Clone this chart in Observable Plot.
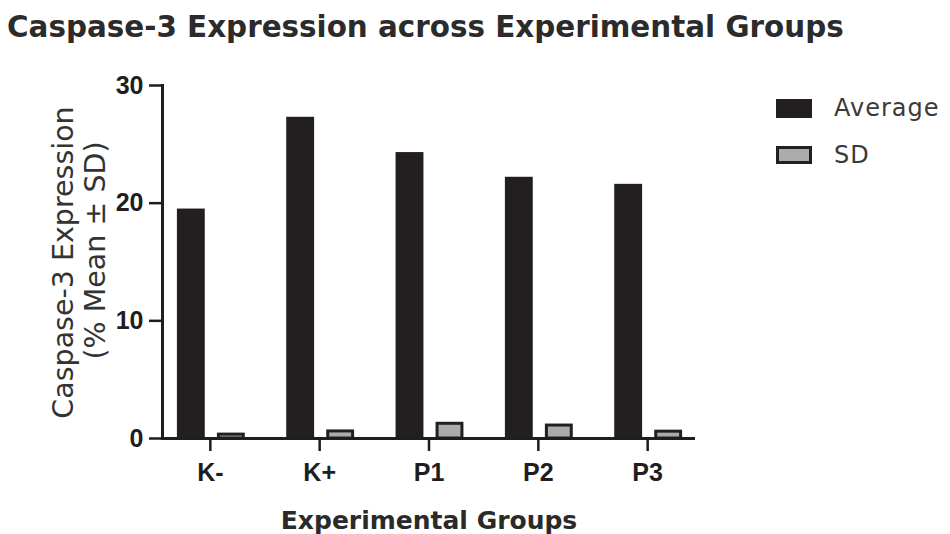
<!DOCTYPE html>
<html>
<head>
<meta charset="utf-8">
<script src="https://cdn.jsdelivr.net/npm/d3@7"></script>
<script src="https://cdn.jsdelivr.net/npm/@observablehq/plot@0.6"></script>
<style>
  html, body { margin: 0; padding: 0; background: #fff; }
  #wrap { position: relative; width: 950px; height: 534px; overflow: hidden; background: #fff; }
  #title { height: 60px; position: relative; }
  #title span { position: absolute; left: 7px; top: 13px; font-family: "DejaVu Sans", sans-serif; font-weight: bold; font-size: 29.4px; line-height: 29.4px; color: #2b2b2b; white-space: nowrap; }
  .lg-sw { position: absolute; box-sizing: border-box; }
  .lg-tx { position: absolute; font-family: "DejaVu Sans", sans-serif; font-size: 24px; line-height: 24px; letter-spacing: 1px; color: #3a3a3a; white-space: nowrap; }
  svg g[aria-label="y-axis tick label"], svg g[aria-label="x-axis tick label"] { font-weight: bold; }
</style>
</head>
<body>
<div id="wrap">
  <div id="title"><span id="title-text"></span></div>
  <div id="chart"></div>
  <div id="legend"></div>
</div>
<script>
const titleText = "Caspase-3 Expression across Experimental Groups";
const groups = ["K-", "K+", "P1", "P2", "P3"];
const averages = [19.5, 27.3, 24.3, 22.2, 21.6];
const sds = [0.33, 0.6, 1.25, 1.1, 0.58];
const series = ["Average", "SD"];
const seriesColors = ["#231f20", "#ababab"];
const yTicks = [0, 10, 20, 30];
const xLabel = "Experimental Groups";
const yLabelLines = ["Caspase-3 Expression", "(% Mean \u00b1 SD)"];

document.getElementById("title-text").textContent = titleText;

const avgRows = groups.map((g, i) => ({group: g, series: series[0], value: averages[i]}));
const sdRows = groups.map((g, i) => ({group: g, series: series[1], value: sds[i]}));

const ink = "#1e1e1e";

const chart = Plot.plot({
  width: 950,
  height: 474,
  marginLeft: 162,
  marginRight: 255,
  marginTop: 25,
  marginBottom: 96,
  style: {fontFamily: "'Liberation Sans', Arial, sans-serif", fontSize: "25px", color: ink, background: "white", overflow: "visible"},
  x: {domain: groups, paddingInner: 0.745, paddingOuter: 0.31, round: false, axis: null},
  y: {domain: [0, 30], axis: null},
  color: {domain: series, range: seriesColors},
  marks: [
    Plot.barY(avgRows, {x: "group", y: "value", fill: "series", dx: -19}),
    Plot.barY(sdRows, {x: "group", y: "value", fill: "series", stroke: "#231f20", strokeWidth: 3, insetLeft: 1.5, insetRight: 1.5, dx: 21}),
    Plot.ruleY([0], {stroke: ink, strokeWidth: 3}),
    Plot.frame({anchor: "left", stroke: ink, strokeWidth: 3}),
    Plot.axisY({ticks: yTicks, tickSize: 13, tickPadding: 6, strokeWidth: 2.5, fontWeight: "bold", label: null}),
    Plot.axisX({tickSize: 13, tickPadding: 12, strokeWidth: 2.5, fontWeight: "bold", label: null}),
    Plot.text([xLabel], {frameAnchor: "bottom", textAnchor: "middle", dy: 82.5, lineAnchor: "middle", fontFamily: "DejaVu Sans", fontWeight: "bold", fontSize: 25, fill: "#2a2a2a"}),
    Plot.text([yLabelLines[0]], {frameAnchor: "left", textAnchor: "middle", rotate: -90, dx: -99, dy: 0.5, lineAnchor: "middle", fontFamily: "DejaVu Sans", fontSize: 28.5, fill: "#333"}),
    Plot.text([yLabelLines[1]], {frameAnchor: "left", textAnchor: "middle", rotate: -90, dx: -67, dy: -11.5, lineAnchor: "middle", fontFamily: "DejaVu Sans", fontSize: 28.5, fill: "#333"})
  ]
});
document.getElementById("chart").appendChild(chart);

// Legend built from the same colour scale
const color = chart.scale("color");
const legend = document.getElementById("legend");
const swTops = [99, 146];
const txTops = [96.4, 142.7];
series.forEach((s, i) => {
  const sw = document.createElement("div");
  sw.className = "lg-sw";
  sw.style.left = "776px";
  sw.style.top = swTops[i] + "px";
  sw.style.width = "36px";
  sw.style.height = (i === 0 ? 19 : 17.5) + "px";
  sw.style.background = color.range[i];
  if (i === 1) sw.style.border = "3px solid #231f20";
  legend.appendChild(sw);
  const tx = document.createElement("div");
  tx.className = "lg-tx";
  tx.style.left = "834px";
  tx.style.top = txTops[i] + "px";
  tx.textContent = s;
  legend.appendChild(tx);
});
</script>
</body>
</html>
